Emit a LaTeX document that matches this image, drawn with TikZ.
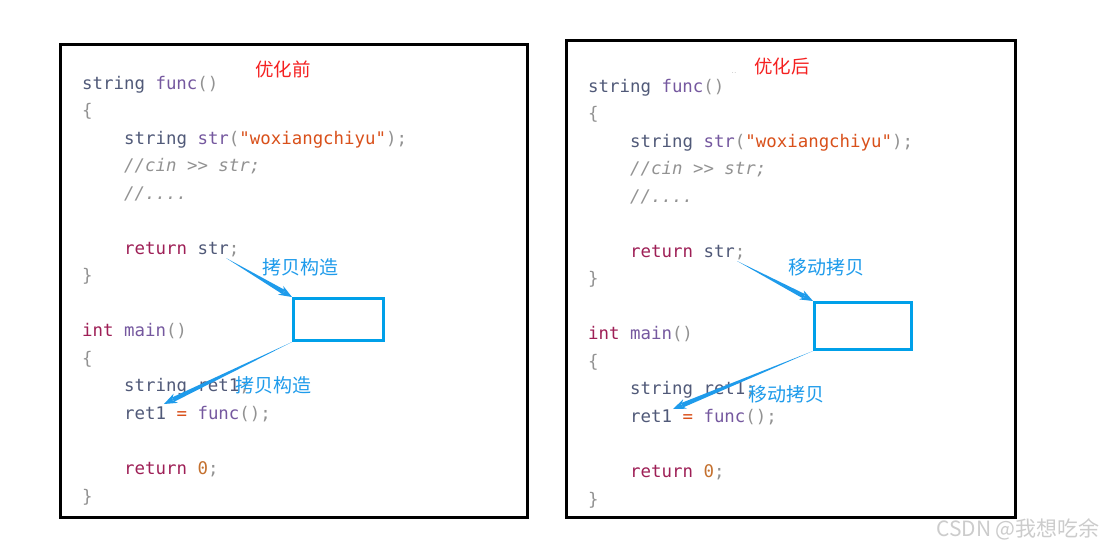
\documentclass[tikz,border=0pt]{standalone}
\usepackage{fontspec}
\setmonofont{DejaVu Sans Mono}
\newfontfamily\cjk{Noto Sans CJK SC}
\usetikzlibrary{calc,arrows.meta}

\definecolor{typegray}{HTML}{505978}
\definecolor{funcpurple}{HTML}{75589F}
\definecolor{punctgray}{HTML}{929292}
\definecolor{litorange}{HTML}{D9501A}
\definecolor{kwred}{HTML}{9E1F56}
\definecolor{numorange}{HTML}{C4702E}
\definecolor{titlered}{HTML}{F52020}
\definecolor{noteblue}{HTML}{1E9BEB}
\definecolor{boxblue}{HTML}{00A0E9}

% code colouring
\newcommand\ty[1]{\textcolor{typegray}{#1}}
\newcommand\fn[1]{\textcolor{funcpurple}{#1}}
\newcommand\pu[1]{\textcolor{punctgray}{#1}}
\newcommand\lit[1]{\textcolor{litorange}{#1}}
\newcommand\kw[1]{\textcolor{kwred}{#1}}
\newcommand\cm[1]{\textcolor{punctgray}{\itshape #1}}
\newcommand\eqs[1]{\textcolor{litorange}{#1}}
\newcommand\num[1]{\textcolor{numorange}{#1}}

\begin{document}
\begin{tikzpicture}[x=1pt,y=-1pt,>=Stealth,
  code/.style={anchor=base west,inner sep=0pt,font=\ttfamily\fontsize{17.4}{20}\selectfont},
  title/.style={text=titlered,inner sep=0pt,font=\cjk\fontsize{18.5}{20}\selectfont},
  note/.style={text=noteblue,inner sep=0pt,font=\cjk\fontsize{19}{21}\selectfont},
  panel/.style={draw=black,line width=3pt},
  tmpbox/.style={draw=boxblue,line width=3pt,inner sep=0pt}]
  % Canvas
  \fill[white] (0,0) rectangle (1104,549);
  \useasboundingbox (0,0) rectangle (1104,549);

  % Panels
  \draw[panel] (60,44) rectangle (527,517);
  \draw[panel] (566,40) rectangle (1015,517);

  % Code (same in both panels)
  \foreach \p/\dx/\dy in {A/82/2, B/588/5}{
    \begin{scope}[shift={(\dx,\dy)}]
      \node[code] (\p-sig)  at (0,87)     {\ty{string} \fn{func}\pu{()}};
      \node[code] (\p-ob)   at (0,114.5)  {\pu{\{}};
      \node[code] (\p-decl) at (42,142)   {\ty{string} \fn{str}\pu{(}\lit{"woxiangchiyu"}\pu{);}};
      \node[code] (\p-cin)  at (42,169.6) {\cm{//cin >> str;}};
      \node[code] (\p-dots) at (42,197.1) {\cm{//....}};
      \node[code] (\p-ret)  at (42,252.2) {\kw{return} \ty{str}\pu{;}};
      \node[code] (\p-cb)   at (0,279.7)  {\pu{\}}};
      \node[code] (\p-main) at (0,334.8)  {\kw{int} \fn{main}\pu{()}};
      \node[code] (\p-ob2)  at (0,362.3)  {\pu{\{}};
      \node[code] (\p-var)  at (42,389.8) {\ty{string ret1}\pu{;}};
      \node[code] (\p-asg)  at (42,417.4) {\ty{ret1} \eqs{=} \fn{func}\pu{();}};
      \node[code] (\p-ret0) at (42,472.4) {\kw{return} \num{0}\pu{;}};
      \node[code] (\p-cb2)  at (0,500)    {\pu{\}}};
    \end{scope}
  }

  % Titles
  \node[title] (beforeT) at (283,69) {优化前};
  \node[title] (afterT)  at (782,66) {优化后};
  \node[text=punctgray,inner sep=0pt,font=\fontsize{8}{8}\selectfont] (tick) at (734,73) {..};

  % Temporaries
  \node[tmpbox,minimum width=90,minimum height=42] (tmpA) at (338.5,319.5) {};
  \node[tmpbox,minimum width=97,minimum height=47] (tmpB) at (863,326) {};

  % Free ends of the arrows
  \coordinate (retA) at (226,258);
  \coordinate (lhsA) at (164,404);
  \coordinate (retB) at (737,261);
  \coordinate (lhsB) at (673,409);

  % Tapered arrows
  \foreach \s/\t in {retA/tmpA.north west, tmpA.south west/lhsA,
                     retB/tmpB.north west, tmpB.south west/lhsB}{
    \fill[noteblue] (\s) -- ($(\t)!10pt!(\s)!2.4pt!90:(\t)$)
      -- ($(\t)!10pt!(\s)!2.4pt!-90:(\t)$) -- cycle;
    \draw[noteblue,line width=1.2pt,-{Stealth[length=13pt,width=10pt]}]
      ($(\t)!16pt!(\s)$) -- (\t);
  }

  % Arrow labels
  \node[note] (copyA1) at (300,267) {拷贝构造};
  \node[note] (copyA2) at (273,385) {拷贝构造};
  \node[note] (moveB1) at (826,267) {移动拷贝};
  \node[note] (moveB2) at (786,394) {移动拷贝};

  % Watermark
  \node[anchor=east,inner sep=0pt,text=gray!40,font=\cjk\fontsize{21}{23}\selectfont]
    (mark) at (1100,529) {CSDN @我想吃余};
\end{tikzpicture}
\end{document}
